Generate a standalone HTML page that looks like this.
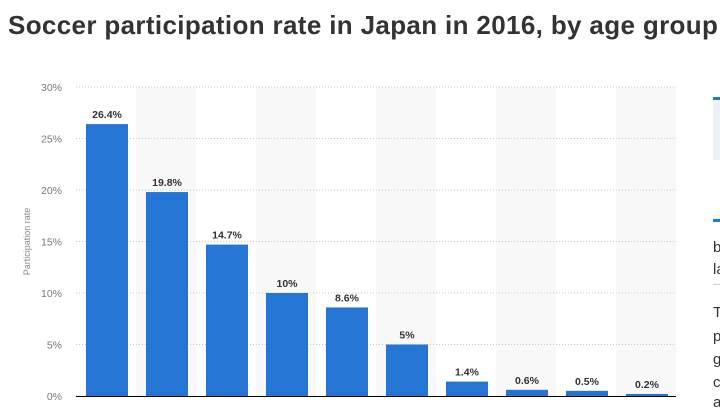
<!DOCTYPE html>
<html><head><meta charset="utf-8"><style>
body{margin:0;width:720px;height:416px;overflow:hidden;background:#fff;font-family:"Liberation Sans",sans-serif;position:relative}
.t{position:absolute;left:8px;top:10px;font-size:26px;font-weight:bold;color:#333;white-space:nowrap;letter-spacing:0.35px}
.sb{position:absolute;font-size:15px;color:#333;left:713px}
</style></head><body>
<div class="t">Soccer participation rate in Japan in 2016, by age group</div>
<svg id="c" width="720" height="416" style="position:absolute;left:0;top:0;overflow:hidden"><defs><clipPath id="cl"><rect x="0" y="0" width="720" height="416"/></clipPath></defs><g id="g" clip-path="url(#cl)"></g></svg>
<div style="position:absolute;left:713px;top:97px;width:7px;height:3px;background:#1f7bc8"></div>
<div style="position:absolute;left:713px;top:100px;width:7px;height:60px;background:#eef2f7"></div>
<div style="position:absolute;left:713px;top:219px;width:7px;height:3px;background:#1f7bc8"></div>
<div class="sb" style="top:239px">b</div>
<div class="sb" style="top:261px">la</div>
<div style="position:absolute;left:713px;top:284px;width:7px;height:1px;background:#ccc"></div>
<div class="sb" style="top:304px">T</div>
<div class="sb" style="top:328px">p</div>
<div class="sb" style="top:351px">g</div>
<div class="sb" style="top:374px">c</div>
<div class="sb" style="top:394px">a</div>
<script>
const categories=["6-9","10-14","15-19","20-29","30-39","40-49","50-59","60-69","70-79","80+"];
const values=[26.4,19.8,14.7,10,8.6,5,1.4,0.6,0.5,0.2];
const labels=["26.4%","19.8%","14.7%","10%","8.6%","5%","1.4%","0.6%","0.5%","0.2%"];
const ticks=[0,5,10,15,20,25,30];
const NS="http://www.w3.org/2000/svg";
const svg=document.getElementById('g');
const x0=76,band=60,y0=396,yTop=87,maxV=30;
const y=v=>y0-(v/maxV)*(y0-yTop);
const bx=i=>x0+i*band;
function mk(t,a){const e=document.createElementNS(NS,t);for(const k in a)e.setAttribute(k,a[k]);svg.appendChild(e);return e;}
categories.forEach((c,i)=>{if(i%2==1){const r=mk('rect',{x:bx(i),y:yTop,width:band,height:y0-yTop,fill:'#f8f8f8'});

}});
ticks.forEach(t=>{const l=mk('line',{x1:x0,x2:x0+band*categories.length,y1:y(t),y2:y(t),stroke:'#c8c8c8','stroke-dasharray':'1,2'});


const tx=mk('text',{x:62,y:y(t)+4,'text-anchor':'end','font-size':'10.5',fill:'#777'});tx.textContent=t+'%';

});
const yt=mk('text',{x:0,y:0,transform:'translate(30,'+((y0+yTop)/2)+') rotate(-90)','text-anchor':'middle','font-size':'9',fill:'#888'});yt.textContent='Participation rate';


values.forEach((v,i)=>{const r=mk('rect',{x:bx(i)+10,y:y(v),width:42,height:y0-y(v),fill:'#2576d4'});


const t=mk('text',{x:bx(i)+31,y:y(v)-6,'text-anchor':'middle','font-size':'10.5','font-weight':'bold',fill:'#333'});t.textContent=labels[i];


const xl=mk('text',{x:bx(i)+34,y:426,'text-anchor':'end','font-size':'9',fill:'#666',transform:'rotate(-45 '+(bx(i)+34)+' 426)'});xl.textContent=categories[i];

});
const ax=mk('line',{x1:x0,x2:x0+band*categories.length,y1:y0+0.5,y2:y0+0.5,stroke:'#000','stroke-width':1});


</script>
</body></html>
